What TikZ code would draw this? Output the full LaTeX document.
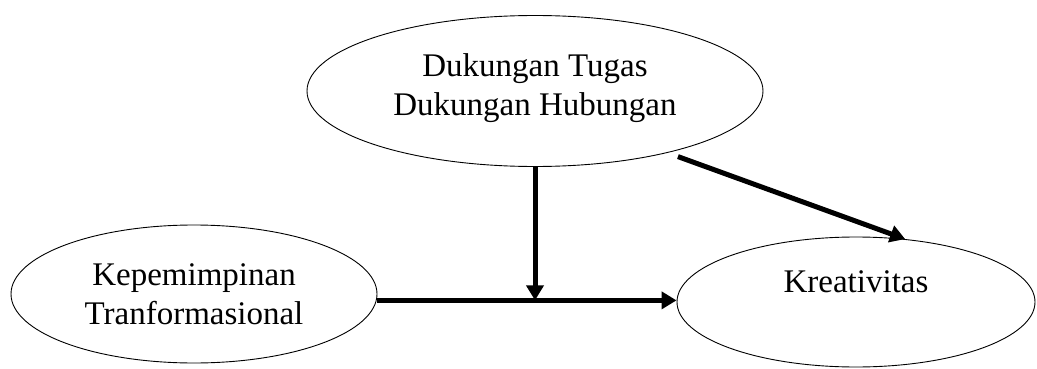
\documentclass[tikz,border=0pt]{standalone}
\usepackage{fontspec}
\setmainfont{Liberation Serif}
\usetikzlibrary{arrows.meta,shapes.geometric}
\begin{document}
\begin{tikzpicture}[x=1pt,y=-1pt,
  oval/.style={ellipse,draw,line width=0.9pt,inner sep=0pt,align=center,
    font=\fontsize{33}{39}\selectfont},
  bigarrow/.style={line width=5pt,-{Triangle[length=15pt,width=17pt]}}]
\useasboundingbox (0,0) rectangle (1037,369);
\node[oval,minimum width=456pt,minimum height=151pt,text depth=12pt] (top) at (535,91)
  {Dukungan Tugas\\Dukungan Hubungan};
\node[oval,minimum width=366pt,minimum height=138pt] (left) at (194,294)
  {Kepemimpinan\\Tranformasional};
\node[oval,minimum width=358pt,minimum height=130pt,text depth=40pt] (right) at (856,302)
  {Kreativitas};
\coordinate (mid) at (top.south |- left.-2);
\draw[bigarrow] (left.-2) -- (left.-2 -| right.west);
\draw[bigarrow] (top.south) -- (mid);
\draw[bigarrow,shorten <=11pt] (top.-25) -- (right.52);
\end{tikzpicture}
\end{document}
